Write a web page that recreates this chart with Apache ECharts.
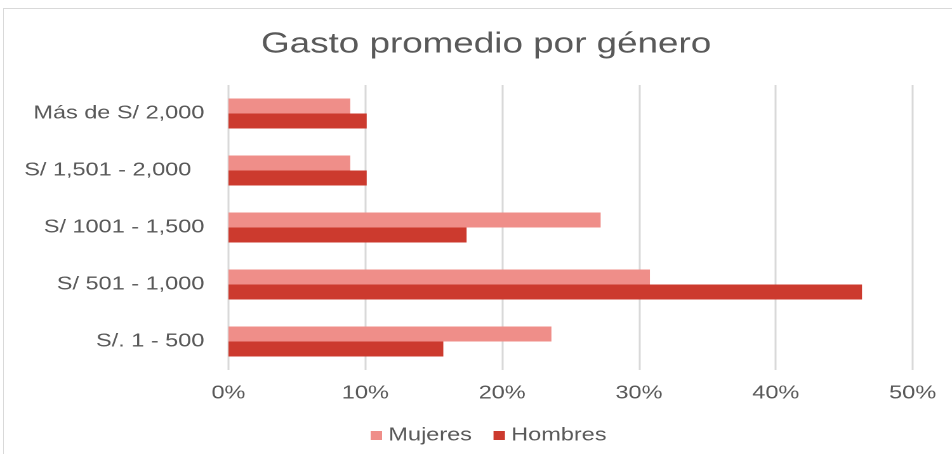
<!DOCTYPE html>
<html>
<head>
<meta charset="utf-8">
<script src="https://cdn.jsdelivr.net/npm/echarts@6/dist/echarts.min.js"></script>
<style>
  html, body { margin: 0; padding: 0; background: #fff; overflow: hidden; }
  #frame { position: absolute; left: 3px; top: 8px; width: 1000px; height: 500px;
           border-left: 1px solid #d9d9d9; border-top: 1px solid #d9d9d9; }
  /* el original viene estirado a lo ancho, así que se dibuja a 750px y se escala */
  #chart { position: absolute; left: 0; top: 0; width: 750px; height: 454px;
           transform: scaleX(1.2693); transform-origin: 0 0; }
</style>
</head>
<body>
<div id="frame"></div>
<div id="chart"></div>
<script>
var categorias = ['S/. 1 - 500', 'S/ 501 - 1,000', 'S/ 1001 - 1,500', 'S/ 1,501 - 2,000  ', 'Más de S/ 2,000'];
var mujeres = [23.6, 30.8, 27.2, 8.9, 8.9];
var hombres = [15.7, 46.3, 17.4, 10.1, 10.1];
var ticks = [0, 10, 20, 30, 40, 50];

var fuente = '"Liberation Sans", Arial, sans-serif';
var gris = '#595959';

var myChart = echarts.init(document.getElementById('chart'), null, { devicePixelRatio: 2 });
var option = {
  animation: false,
  title: {
    text: 'Gasto promedio por género',
    left: 378,
    textAlign: 'center',
    top: 25,
    textStyle: { fontFamily: fuente, fontSize: 29, fontWeight: 'normal', color: gris }
  },
  legend: {
    data: ['Mujeres', 'Hombres'],
    left: 287,
    top: 421,
    icon: 'rect',
    itemWidth: 9,
    itemHeight: 9,
    itemGap: 17,
    textStyle: { fontFamily: fuente, fontSize: 18.5, color: gris }
  },
  grid: { left: 180, right: 31, top: 85, bottom: 84 },
  xAxis: {
    type: 'value',
    min: ticks[0],
    max: ticks[ticks.length - 1],
    interval: 10,
    axisLine: { show: false },
    axisTick: { show: false },
    splitLine: { lineStyle: { color: '#d9d9d9', width: 1.5 } },
    axisLabel: { margin: 14, fontFamily: fuente, fontSize: 18.5, color: gris, formatter: '{value}%' }
  },
  yAxis: {
    type: 'category',
    data: categorias,
    axisLine: { show: false },
    axisTick: { show: false },
    axisLabel: { margin: 19, fontFamily: fuente, fontSize: 18.5, color: gris }
  },
  series: [
    {
      name: 'Mujeres',
      type: 'bar',
      data: mujeres,
      barWidth: 15,
      barGap: '0%',
      itemStyle: { color: '#ef8e89' }
    },
    {
      name: 'Hombres',
      type: 'bar',
      data: hombres,
      barWidth: 15,
      barGap: '0%',
      itemStyle: { color: '#cc3a2e' }
    }
  ]
};
myChart.setOption(option);
</script>
</body>
</html>
